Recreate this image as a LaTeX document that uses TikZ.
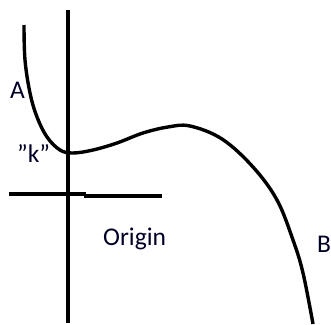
\documentclass[tikz,border=0pt]{standalone}
\usepackage{fontspec}
\setmainfont{Carlito}
\begin{document}
\begin{tikzpicture}[x=1pt,y=-1pt,
  axisline/.style={line width=3.4pt},
  curveline/.style={line width=3.4pt,line join=round},
  lbl/.style={inner sep=0pt,anchor=base west,text=black!85!blue,font=\fontsize{25.5}{30}\selectfont}]
\useasboundingbox (0,0) rectangle (331,324);
% axes
\coordinate (vtop) at (68,10);
\coordinate (vbot) at (68,323);
\coordinate (hl) at (9,194);
\coordinate (hm1) at (86,194);
\coordinate (hm2) at (84,196);
\coordinate (hr) at (162,196);
\draw[axisline] (vtop) -- (vbot);
\draw[axisline] (hl) -- (hm1);
\draw[axisline] (hm2) -- (hr);
% curve
\draw[curveline] plot[smooth,tension=0.6] coordinates {
 (24,25) (25,60) (30,93) (37,117) (47,137) (60,150) (73,153) (93,150)
 (117,143) (143,133) (168,127) (190,126) (222,139) (253,167) (277,200)
 (293,240) (303,273) (313,324)};
% labels
\node[lbl] (A) at (10,98) {A};
\node[lbl] (k) at (17,162) {\symbol{34}k\symbol{34}};
\node[lbl] (O) at (103,245) {Origin};
\node[lbl] (B) at (317,252) {B};
\end{tikzpicture}
\end{document}
